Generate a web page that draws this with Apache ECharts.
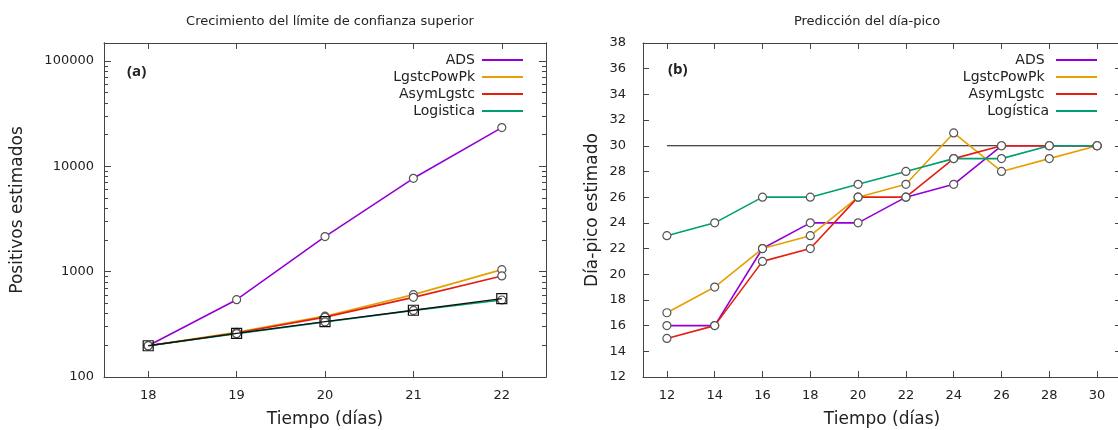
<!DOCTYPE html>
<html>
<head>
<meta charset="utf-8">
<script src="https://cdn.jsdelivr.net/npm/echarts@6/dist/echarts.min.js"></script>
<style>
  html, body { margin: 0; padding: 0; background: #fff; }
  #chart { width: 1118px; height: 430px; }
</style>
</head>
<body>
<div id="chart"></div>
<script>
// (a) límite de confianza superior
const timeA = [18, 19, 20, 21, 22];
const adsA = [198, 542, 2150, 7690, 23300];
const powPkA = [198, 265, 378, 605, 1045];
const asymA = [198, 262, 370, 570, 910];
const logisticaA = [198, 258, 333, 428, 538];
const observedA = [198, 259, 335, 430, 554];

// (b) día-pico estimado
const timeB = [12, 14, 16, 18, 20, 22, 24, 26, 28, 30];
const adsB = [16, 16, 22, 24, 24, 26, 27, 30, 30, 30];
const powPkB = [17, 19, 22, 23, 26, 27, 31, 28, 29, 30];
const asymB = [15, 16, 21, 22, 26, 26, 29, 30, 30, 30];
const logisticaB = [23, 24, 26, 26, 27, 28, 29, 29, 30, 30];
const peakDay = 30;
const peakSpan = [12, 30];

// tick labels
const logTicks = [100, 1000, 10000, 100000];
const logMinor = [200, 300, 400, 500, 600, 700, 800, 900,
  2000, 3000, 4000, 5000, 6000, 7000, 8000, 9000,
  20000, 30000, 40000, 50000, 60000, 70000, 80000, 90000];
const ticksXA = [18, 19, 20, 21, 22];
const ticksXB = [12, 14, 16, 18, 20, 22, 24, 26, 28, 30];

const colors = {
  ads: "#9400d3",
  pow: "#e69f00",
  asym: "#e51e10",
  logis: "#009e73",
};

const font = "DejaVu Sans";
const axisColor = "#444";

const pairs = (xs, ys) => xs.map((x, i) => [x, ys[i]]);

const lineSeries = (name, color, xs, ys, xIdx, yIdx) => ({
  type: "line",
  name,
  xAxisIndex: xIdx,
  yAxisIndex: yIdx,
  data: pairs(xs, ys),
  symbol: "circle",
  symbolSize: 8,
  showAllSymbol: true,
  lineStyle: { color, width: 1.6 },
  itemStyle: { color: "#fff", borderColor: "#555", borderWidth: 1.2 },
  emphasis: { disabled: true },
  z: 3,
});

const baseX = (gridIndex, min, max, ticks, show) => ({
  type: "value",
  gridIndex,
  min,
  max,
  position: show ? "bottom" : "top",
  axisLine: { show: true, onZero: false, lineStyle: { color: axisColor, width: 1 } },
  axisTick: { show: true, inside: true, length: 6, customValues: ticks, lineStyle: { color: axisColor } },
  axisLabel: show
    ? { show: true, customValues: ticks, margin: 12, fontSize: 13, color: "#222", fontFamily: font }
    : { show: false },
  splitLine: { show: false },
});

const logY = (position, ticks, len, labels) => ({
  type: "log",
  logBase: 10,
  gridIndex: 0,
  min: 100,
  max: 148000,
  position,
  axisLine: { show: true, onZero: false, lineStyle: { color: axisColor } },
  axisTick: { show: true, inside: true, length: len, customValues: ticks, lineStyle: { color: axisColor } },
  axisLabel: labels
    ? {
        show: true,
        customValues: ticks,
        margin: 10,
        fontSize: 13,
        color: "#222",
        fontFamily: font,
        formatter: (v) => String(Math.round(v)),
      }
    : { show: false },
  splitLine: { show: false },
});

const legendFor = (names, right) => ({
  orient: "vertical",
  align: "right",
  right,
  top: 48,
  itemWidth: 41,
  itemHeight: 2,
  itemGap: 3,
  icon: "rect",
  selectedMode: false,
  textStyle: { fontSize: 14, color: "#222", fontFamily: font, padding: [0, 2, 0, 0] },
  data: names,
});

const chart = echarts.init(document.getElementById("chart"), null, { renderer: "canvas" });

const option = {
  animation: false,
  backgroundColor: "#fff",
  title: [
    {
      text: "Crecimiento del límite de confianza superior",
      left: 325,
      top: 10,
      textAlign: "center",
      textStyle: { fontSize: 13, fontWeight: "normal", color: "#222", fontFamily: font },
    },
    {
      text: "Predicción del día-pico",
      left: 862,
      top: 10,
      textAlign: "center",
      textStyle: { fontSize: 13, fontWeight: "normal", color: "#222", fontFamily: font },
    },
    {
      text: "(a)",
      left: 122,
      top: 59,
      textStyle: { fontSize: 15, fontWeight: "bold", color: "#222", fontFamily: "Open Sans" },
    },
    {
      text: "(b)",
      left: 663,
      top: 57,
      textStyle: { fontSize: 15, fontWeight: "bold", color: "#222", fontFamily: "Open Sans" },
    },
  ],
  legend: [
    legendFor(
      [
        { name: "ADS", itemStyle: { color: colors.ads, borderWidth: 0 } },
        { name: "LgstcPowPk", itemStyle: { color: colors.pow, borderWidth: 0 } },
        { name: "AsymLgstc", itemStyle: { color: colors.asym, borderWidth: 0 } },
        { name: "Logistica", itemStyle: { color: colors.logis, borderWidth: 0 } },
      ],
      590
    ),
    legendFor(
      [
        { name: "ADS ", itemStyle: { color: colors.ads, borderWidth: 0 } },
        { name: "LgstcPowPk ", itemStyle: { color: colors.pow, borderWidth: 0 } },
        { name: "AsymLgstc ", itemStyle: { color: colors.asym, borderWidth: 0 } },
        { name: "Logística", itemStyle: { color: colors.logis, borderWidth: 0 } },
      ],
      16
    ),
  ],
  grid: [
    { left: 104, top: 43, width: 442, height: 334, outerBoundsMode: "none", containLabel: false },
    { left: 643, top: 43, width: 478, height: 334, outerBoundsMode: "none", containLabel: false },
  ],
  xAxis: [
    Object.assign(baseX(0, 17.5, 22.5, ticksXA, true), {
      name: "Tiempo (días)",
      nameLocation: "middle",
      nameGap: 34,
      nameTextStyle: { fontSize: 17, color: "#222", fontFamily: font },
    }),
    baseX(0, 17.5, 22.5, ticksXA, false),
    Object.assign(baseX(1, 11, 31, ticksXB, true), {
      name: "Tiempo (días)",
      nameLocation: "middle",
      nameGap: 34,
      nameTextStyle: { fontSize: 17, color: "#222", fontFamily: font },
    }),
    baseX(1, 11, 31, ticksXB, false),
  ],
  yAxis: [
    Object.assign(logY("left", logTicks, 7, true), {
      name: "Positivos estimados",
      nameLocation: "middle",
      nameGap: 78,
      nameTextStyle: { fontSize: 17, color: "#222", fontFamily: font },
    }),
    logY("right", logTicks, 7, false),
    logY("left", logMinor, 4, false),
    logY("right", logMinor, 4, false),
    {
      type: "value",
      gridIndex: 1,
      min: 12,
      max: 38,
      interval: 2,
      position: "left",
      name: "Día-pico estimado",
      nameLocation: "middle",
      nameGap: 42,
      nameTextStyle: { fontSize: 17, color: "#222", fontFamily: font },
      axisLine: { show: true, lineStyle: { color: axisColor } },
      axisTick: { show: true, inside: true, length: 6, lineStyle: { color: axisColor } },
      axisLabel: { margin: 17, fontSize: 13, color: "#222", fontFamily: font },
      splitLine: { show: false },
    },
    {
      type: "value",
      gridIndex: 1,
      min: 12,
      max: 38,
      interval: 2,
      position: "right",
      axisLine: { show: true, lineStyle: { color: axisColor } },
      axisTick: { show: true, inside: true, length: 6, lineStyle: { color: axisColor } },
      axisLabel: { show: false },
      splitLine: { show: false },
    },
  ],
  series: [
    lineSeries("ADS", colors.ads, timeA, adsA, 0, 0),
    lineSeries("LgstcPowPk", colors.pow, timeA, powPkA, 0, 0),
    lineSeries("AsymLgstc", colors.asym, timeA, asymA, 0, 0),
    lineSeries("Logistica", colors.logis, timeA, logisticaA, 0, 0),
    {
      type: "line",
      name: "observado",
      xAxisIndex: 0,
      yAxisIndex: 0,
      data: pairs(timeA, observedA),
      symbol: "rect",
      symbolSize: 10,
      lineStyle: { color: "#111", width: 1.3 },
      itemStyle: { color: "rgba(0,0,0,0)", borderColor: "#111", borderWidth: 1.2 },
      emphasis: { disabled: true },
      z: 4,
    },
    {
      type: "line",
      name: "pico",
      xAxisIndex: 2,
      yAxisIndex: 4,
      data: peakSpan.map((x) => [x, peakDay]),
      symbol: "none",
      lineStyle: { color: "#111", width: 1.2 },
      emphasis: { disabled: true },
      z: 2,
    },
    lineSeries("ADS ", colors.ads, timeB, adsB, 2, 4),
    lineSeries("LgstcPowPk ", colors.pow, timeB, powPkB, 2, 4),
    lineSeries("AsymLgstc ", colors.asym, timeB, asymB, 2, 4),
    lineSeries("Logística", colors.logis, timeB, logisticaB, 2, 4),
  ],
};

option && chart.setOption(option);
</script>
</body>
</html>
